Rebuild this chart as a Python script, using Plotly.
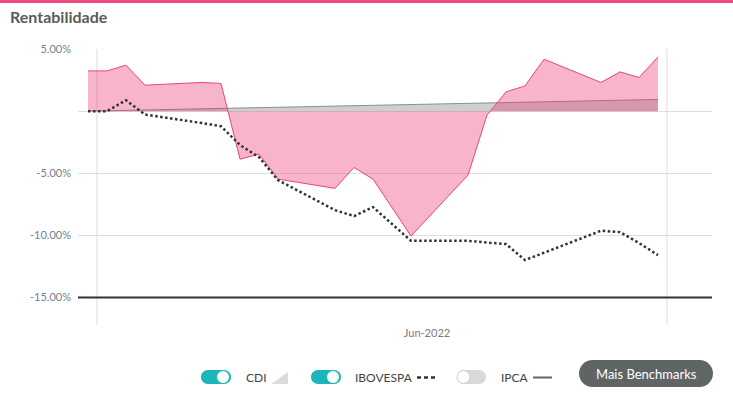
import plotly.graph_objects as go

# ---- data ----
weeks = [0, 1, 2, 3, 6, 7, 8, 9, 10, 13, 14, 15, 17, 20, 21, 22, 23, 24, 27, 28, 29, 30]
fundo = [3.24, 3.24, 3.70, 2.09, 2.31, 2.23, -3.86, -3.46, -5.47, -6.21, -4.53, -5.47,
         -10.05, -5.14, -0.32, 1.55, 2.03, 4.18, 2.31, 3.16, 2.71, 4.36]
cdi = [0.0, 0.03, 0.07, 0.10, 0.19, 0.22, 0.25, 0.28, 0.31, 0.40, 0.43, 0.46,
       0.52, 0.60, 0.63, 0.66, 0.69, 0.72, 0.82, 0.86, 0.90, 0.94]
ibovespa = [0.0, 0.0, 0.88, -0.27, -0.96, -1.21, -2.73, -3.70, -5.55, -7.96, -8.44, -7.72,
            -10.43, -10.43, -10.57, -10.69, -11.98, -11.39, -9.62, -9.73, -10.61, -11.58]
y_ticks = [-15, -10, -5, 0, 5]
y_tick_text = ["-15.00%", "-10.00%", "-5.00%", "", "5.00%"]
x_label_pos = [17.84]
x_label_text = ["Jun-2022"]
x_grid_pos = [0.47, 30.47]
title_text = "Rentabilidade"
legend_labels = ["CDI", "IBOVESPA", "IPCA"]
button_text = "Mais Benchmarks"

# ---- layout geometry (pixels) ----
W, H = 733, 395
L, R, T, B = 78, 712, 49, 325


def px(x):
    return (x - L) / (R - L)


def py(y):
    return (B - y) / (B - T)


def pill_path(x1, x2, y1, y2):
    r = (y2 - y1) / 2
    k = 0.5523 * r
    ym = (y1 + y2) / 2
    pts = [
        ("M", [(x1 + r, y1)]),
        ("L", [(x2 - r, y1)]),
        ("C", [(x2 - r + k, y1), (x2, ym - k), (x2, ym)]),
        ("C", [(x2, ym + k), (x2 - r + k, y2), (x2 - r, y2)]),
        ("L", [(x1 + r, y2)]),
        ("C", [(x1 + r - k, y2), (x1, ym + k), (x1, ym)]),
        ("C", [(x1, ym - k), (x1 + r - k, y1), (x1 + r, y1)]),
    ]
    s = ""
    for cmd, ps in pts:
        s += cmd + " " + " ".join(f"{px(a):.5f},{py(b):.5f}" for a, b in ps) + " "
    return s + "Z"


fig = go.Figure()

fig.add_trace(go.Scatter(
    x=weeks, y=cdi, mode="lines", fill="tozeroy",
    line=dict(color="#8c8f8f", width=1),
    fillcolor="rgba(140,147,147,0.44)", hoverinfo="skip", showlegend=False))

fig.add_trace(go.Scatter(
    x=weeks, y=fundo, mode="lines", fill="tozeroy",
    line=dict(color="#e8457c", width=1),
    fillcolor="rgba(234,57,119,0.38)", hoverinfo="skip", showlegend=False))

fig.add_trace(go.Scatter(
    x=weeks, y=ibovespa, mode="lines",
    line=dict(color="#333333", width=2.5, dash="2.5px,2.5px"),
    hoverinfo="skip", showlegend=False))

shapes = []
# vertical grid lines
for gx in x_grid_pos:
    shapes.append(dict(type="line", xref="x", yref="paper", x0=gx, x1=gx, y0=0, y1=1,
                       line=dict(color="#dddddd", width=1), layer="below"))
# -15% baseline
shapes.append(dict(type="line", xref="paper", yref="y", x0=0, x1=1, y0=-15, y1=-15,
                   line=dict(color="#333333", width=2)))
# top pink bar
shapes.append(dict(type="rect", xref="paper", yref="paper", x0=px(0), x1=px(W),
                   y0=py(3), y1=py(0), fillcolor="#f04a80", line=dict(width=0)))

# legend toggles
teal = "#1cb6ba"
for (x1, x2) in [(201, 231), (311, 341)]:
    shapes.append(dict(type="path", xref="paper", yref="paper", path=pill_path(x1, x2, 370, 384),
                       fillcolor=teal, line=dict(width=0)))
    shapes.append(dict(type="circle", xref="paper", yref="paper",
                       x0=px(x2 - 14), x1=px(x2 - 2), y0=py(383), y1=py(371),
                       fillcolor="white", line=dict(width=0)))
shapes.append(dict(type="path", xref="paper", yref="paper", path=pill_path(457, 486, 370, 384),
                   fillcolor="#d9d9d9", line=dict(width=0)))
shapes.append(dict(type="circle", xref="paper", yref="paper",
                   x0=px(457), x1=px(470), y0=py(383.5), y1=py(370.5),
                   fillcolor="white", line=dict(color="#cccccc", width=1)))
# CDI triangle icon
shapes.append(dict(type="path", xref="paper", yref="paper",
                   path=f"M {px(271)},{py(384)} L {px(288)},{py(384)} L {px(288)},{py(372)} Z",
                   fillcolor="#dcdcdc", line=dict(width=0)))
# IBOVESPA dashes icon
for (a, b) in [(417, 421), (424, 428), (431, 435)]:
    shapes.append(dict(type="line", xref="paper", yref="paper", x0=px(a), x1=px(b),
                       y0=py(377.5), y1=py(377.5), line=dict(color="#333333", width=2.5)))
# IPCA line icon
shapes.append(dict(type="line", xref="paper", yref="paper", x0=px(533), x1=px(552),
                   y0=py(377.5), y1=py(377.5), line=dict(color="#666666", width=2)))
# button
shapes.append(dict(type="path", xref="paper", yref="paper", path=pill_path(579, 713, 360, 387),
                   fillcolor="#5f6565", line=dict(width=0)))

annotations = [
    dict(text=f"<b>{title_text}</b>", x=px(8), y=py(17), xref="paper", yref="paper",
         xanchor="left", yanchor="middle", showarrow=False,
         font=dict(family="Lato", size=16, color="#5b5b5b")),
    dict(text=legend_labels[0], x=px(244), y=py(377.5), xref="paper", yref="paper",
         xanchor="left", yanchor="middle", showarrow=False,
         font=dict(family="Lato", size=12, color="#444444")),
    dict(text=legend_labels[1], x=px(353), y=py(377.5), xref="paper", yref="paper",
         xanchor="left", yanchor="middle", showarrow=False,
         font=dict(family="Lato", size=12, color="#444444")),
    dict(text=legend_labels[2], x=px(499), y=py(377.5), xref="paper", yref="paper",
         xanchor="left", yanchor="middle", showarrow=False,
         font=dict(family="Lato", size=12, color="#444444")),
    dict(text=button_text, x=px(646), y=py(373.5), xref="paper", yref="paper",
         xanchor="center", yanchor="middle", showarrow=False,
         font=dict(family="Lato", size=13, color="white")),
]

x_min = (L - 88) / 19
x_max = (R - 88) / 19
y_top = 5.0
y_bot = (111 - B) / 12.44

fig.update_layout(
    width=W, height=H,
    margin=dict(l=L, r=W - R, t=T, b=H - B),
    paper_bgcolor="white", plot_bgcolor="white",
    font=dict(family="Lato"),
    xaxis=dict(range=[x_min, x_max], showgrid=False, zeroline=False, showline=False,
               tickvals=x_label_pos, ticktext=x_label_text, ticks="",
               tickfont=dict(family="Lato", size=11, color="#7a7a7a"), fixedrange=True),
    yaxis=dict(range=[y_bot, y_top], tickvals=y_ticks, ticktext=y_tick_text,
               showgrid=True, gridcolor="#dedede", gridwidth=1, zeroline=False,
               showline=False, ticks="", ticklabelstandoff=6,
               tickfont=dict(family="Lato", size=11, color="#6f7f9a"), fixedrange=True),
    shapes=shapes,
    annotations=annotations,
    showlegend=False,
)

fig.write_html("out.html", config={"displayModeBar": False},
               post_script="document.body.style.margin='0px';document.body.style.overflow='hidden';")
